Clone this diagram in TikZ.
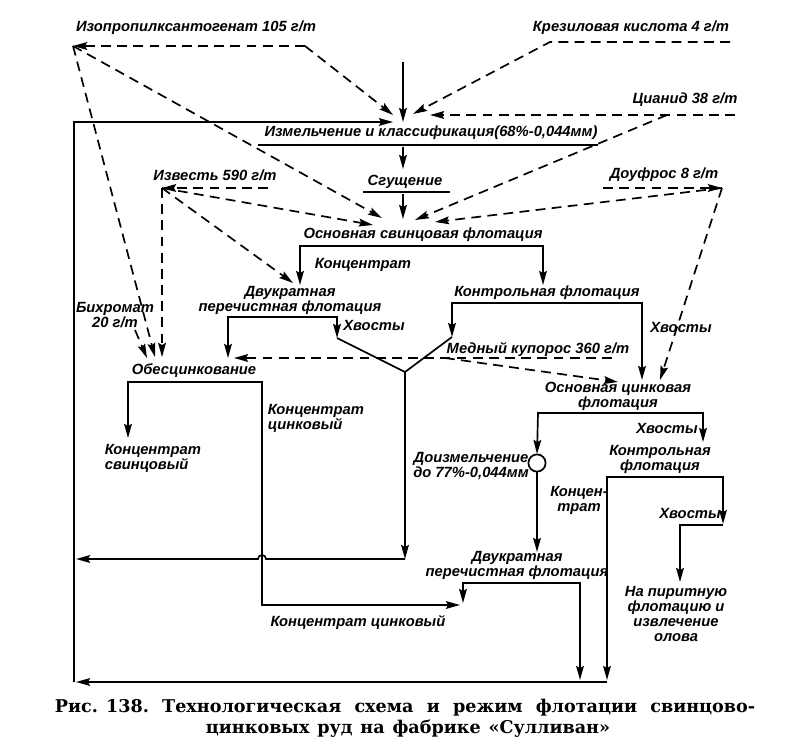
\documentclass[tikz,border=0pt]{standalone}
\usepackage{fontspec}
\setmainfont{DejaVu Serif}
\newfontfamily\lblfont{Liberation Sans}
\usepackage{tikz}
\usetikzlibrary{arrows.meta}
\usetikzlibrary{calc}

\begin{document}
\begin{tikzpicture}[x=0.025cm,y=-0.025cm,line width=1.2pt,>={Stealth[length=10pt,width=5.5pt,inset=1.5pt]}]
	\tikzstyle{lbl}=[font=\lblfont\bfseries\itshape\fontsize{10.5}{10.7}\selectfont, inner sep=0pt, align=center]
	\tikzstyle{reag}=[dash pattern=on 7pt off 4.5pt]
	\tikzstyle{capt}=[font=\bfseries\fontsize{12.5}{15}\selectfont, inner sep=0pt]
	\fill[white] (0,0) rectangle (800,754);
	\useasboundingbox (0,0) rectangle (800,754);

	\node[lbl] (izo) at (196,28) {Изопропилксантогенат 105 г/т};
	\node[lbl] (krz) at (631,28) {Крезиловая кислота 4 г/т};
	\node[lbl] (cn) at (685,100) {Цианид 38 г/т};
	\node[lbl] (izm) at (431,133) {Измельчение и классификация(68\%-0,044мм)};
	\node[lbl] (izv) at (215,175) {Известь 590 г/т};
	\node[lbl] (df) at (664,175) {Доуфрос 8 г/т};
	\node[lbl] (sg) at (405,182) {Сгущение};
	\node[lbl] (pb) at (423,235) {Основная свинцовая флотация};
	\node[lbl] (konc) at (363,265) {Концентрат};
	\node[lbl] (sc1) at (547,293) {Контрольная флотация};
	\node[lbl] (cl1) at (290,300) {Двукратная\\перечистная флотация};
	\node[lbl] (bh) at (115,315) {Бихромат\\20 г/т};
	\node[lbl] (hv1) at (374,325) {Хвосты};
	\node[lbl] (hv2) at (681,327) {Хвосты};
	\node[lbl] (md) at (538,350) {Медный купорос 360 г/т};
	\node[lbl] (obes) at (194,371) {Обесцинкование};
	\node[lbl] (zn) at (618,396) {Основная цинковая\\флотация};
	\node[lbl,align=left,anchor=west] (znc1) at (267,418) {Концентрат\\цинковый};
	\node[lbl] (hv3) at (667,428) {Хвосты};
	\node[lbl,align=left,anchor=west] (pbc) at (104,458) {Концентрат\\свинцовый};
	\node[lbl] (sc2) at (660,459) {Контрольная\\флотация};
	\node[lbl] (doiz) at (471,466) {Доизмельчение\\до 77\%-0,044мм};
	\node[draw,circle,inner sep=0pt,minimum size=0.43cm] (ball) at (537,463) {};
	\node[lbl] (kt) at (579,500) {Концен-\\трат};
	\node[lbl] (hv4) at (690,513) {Хвосты};
	\node[lbl] (cl2) at (517,565) {Двукратная\\перечистная флотация};
	\node[lbl] (pir) at (676,614) {На пиритную\\флотацию и\\извлечение\\олова};
	\node[lbl] (znc2) at (358,622) {Концентрат цинковый};
	\node[capt] (cap1) at (405,708) {\makebox[17.5cm][s]{\hbox{Рис. 138.} Технологическая схема и режим флотации свинцово-}};
	\node[capt] (cap2) at (408,729) {\makebox[10.1cm][s]{цинковых руд на фабрике «Сулливан»}};

	\coordinate (feed) at (403,62);  \coordinate (mill) at (403,122);
	\coordinate (millL) at (393,122); \coordinate (millIzo) at (393,115);
	\coordinate (millKrz) at (413,114); \coordinate (millCn) at (430,115);
	\coordinate (izmL) at (258,145); \coordinate (izmR) at (598,145);
	\coordinate (izmO) at (403,147); \coordinate (sgI) at (403,169);
	\coordinate (sgL) at (363,192); \coordinate (sgR) at (450,192);
	\coordinate (sgO) at (403,194); \coordinate (pbI) at (403,219);
	\coordinate (pbIzo) at (382,218); \coordinate (pbIzv) at (373,225);
	\coordinate (pbCn) at (415,220); \coordinate (pbDf) at (435,222);
	\coordinate (pbL) at (300,246); \coordinate (pbR) at (543,246);
	\coordinate (cl1I) at (300,285); \coordinate (cl1Izv) at (293,283);
	\coordinate (cl1L) at (228,317); \coordinate (cl1R) at (337,317);
	\coordinate (cl1T) at (337,338);
	\coordinate (sc1I) at (543,285);
	\coordinate (sc1L) at (452,303); \coordinate (sc1R) at (642,303);
	\coordinate (sc1T) at (452,337);
	\coordinate (jn) at (405,372);
	\coordinate (obT) at (228,358);
	\coordinate (obBh) at (147,358); \coordinate (obIzo) at (155,357);
	\coordinate (obIzv) at (162,357); \coordinate (obMd) at (234,358);
	\coordinate (obL) at (128,382); \coordinate (obR) at (262,382);
	\coordinate (pbcT) at (128,438);
	\coordinate (znI) at (642,380); \coordinate (znDf) at (660,380);
	\coordinate (znMd) at (618,382);
	\coordinate (znL) at (538,413); \coordinate (znR) at (703,413);
	\coordinate (ballT) at (537,454); \coordinate (sc2I) at (703,442);
	\coordinate (sc2L) at (607,477); \coordinate (sc2R) at (723,477);
	\coordinate (hv4T) at (723,524); \coordinate (hv4C) at (723,525);
	\coordinate (pirC) at (680,525); \coordinate (pirT) at (680,582);
	\coordinate (cl2I) at (537,552);
	\coordinate (cl2L) at (463,583); \coordinate (cl2R) at (580,583);
	\coordinate (cl2Lt) at (463,603); \coordinate (cl2Rt) at (580,680);
	\coordinate (znc3) at (262,605); \coordinate (cl2T) at (460,605);
	\coordinate (ret1) at (405,559); \coordinate (hopR) at (266,559);
	\coordinate (retL1) at (76,559);
	\coordinate (sc2Bt) at (607,680); \coordinate (bot) at (607,682);
	\coordinate (retL2) at (76,682);
	\coordinate (loopB) at (74,682); \coordinate (loopT) at (74,122);
	\coordinate (izoA) at (73,46); \coordinate (izoB) at (305,46);
	\coordinate (krzA) at (730,42); \coordinate (krzB) at (550,42);
	\coordinate (cnA) at (735,115); \coordinate (cnB) at (667,115);
	\coordinate (izvA) at (162,188); \coordinate (izvB) at (268,188);
	\coordinate (dfA) at (603,188); \coordinate (dfB) at (722,188);
	\coordinate (mdA) at (612,358); \coordinate (mdB) at (445,358);
	\coordinate (bhA) at (135,330);

	\draw[->] (feed) -- (mill);
	\draw (izmL) -- (izmR);
	\draw[->] (izmO) -- (sgI);
	\draw (sgL) -- (sgR);
	\draw[->] (sgO) -- (pbI);
	\draw[<->] (cl1I) -- (pbL) -- (pbR) -- (sc1I);
	\draw[<->] (obT) -- (cl1L) -- (cl1R) -- (cl1T);
	\draw (cl1T) -- (jn);
	\draw[<->] (sc1T) -- (sc1L) -- (sc1R) -- (znI);
	\draw (sc1T) -- (jn);
	\draw[->] (jn) -- (ret1);
	\draw[->] (ret1) -- (hopR) arc[start angle=0,end angle=-180,radius=4] -- (retL1);
	\draw[<->] (pbcT) -- (obL) -- (obR) -- (znc3) -- (cl2T);
	\draw[<->] (ballT) -- (znL) -- (znR) -- (sc2I);
	\draw[->] (ball.south) -- (cl2I);
	\draw[<->] (sc2Bt) -- (sc2L) -- (sc2R) -- (hv4T);
	\draw[->] (hv4C) -- (pirC) -- (pirT);
	\draw[<->] (cl2Lt) -- (cl2L) -- (cl2R) -- (cl2Rt);
	\draw[->] (bot) -- (retL2);
	\draw[->] (loopB) -- (loopT) -- (millL);

	\foreach \a/\b in {izoB/izoA, izoB/millIzo, izoA/pbIzo, izoA/obIzo,
		cnA/millCn, cnB/pbCn, izvB/izvA, izvA/pbIzv, izvA/cl1Izv, izvA/obIzv,
		dfA/dfB, dfB/pbDf, dfB/znDf, mdA/obMd, mdB/znMd, bhA/obBh}{
		\draw[reag,->] (\a) -- (\b);
	}
	\draw[reag,->] (krzA) -- (krzB) -- (millKrz);
\end{tikzpicture}
\end{document}
